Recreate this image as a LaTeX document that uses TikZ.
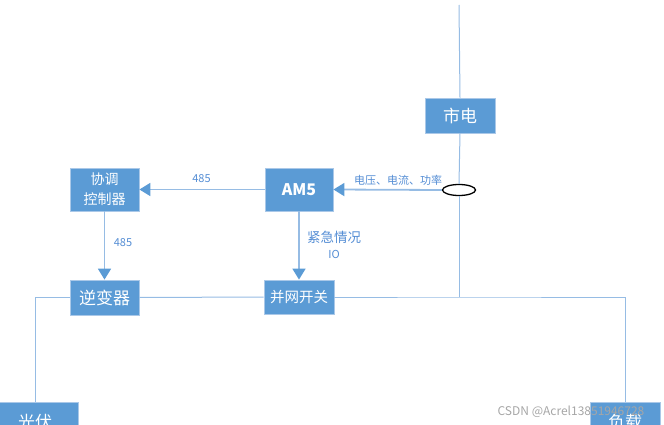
\documentclass[tikz,border=0pt]{standalone}
\usepackage{fontspec}
\setmainfont{Noto Sans CJK SC}
\usetikzlibrary{arrows.meta,shapes.geometric}
\definecolor{boxblue}{RGB}{91,155,213}
\definecolor{boxedge}{RGB}{170,200,232}
\definecolor{lineblue}{RGB}{150,188,228}
\definecolor{txtblue}{RGB}{84,141,212}
\tikzset{
  box/.style={draw=boxedge, line width=0.8pt, fill=boxblue, text=white, inner sep=0pt, align=center},
  wire/.style={draw=lineblue, line width=1pt},
  arr/.style={draw=lineblue, line width=1.8pt, -{Triangle[length=11pt,width=13pt,fill=boxblue,color=boxblue]}},
  lbl/.style={text=txtblue, inner sep=0pt, font=\fontsize{11}{13}\selectfont}
}
\begin{document}
\begin{tikzpicture}[x=1pt,y=-1pt]
\useasboundingbox (0,0) rectangle (664,425);
% boxes
\node[box, minimum width=70pt, minimum height=35pt, font=\fontsize{17}{20}\selectfont] (sd) at (460,115.5) {市电};
\node[box, minimum width=68pt, minimum height=43pt, font=\fontsize{16}{19}\selectfont\bfseries] (am) at (299,189.5) {AM5};
\node[box, minimum width=69pt, minimum height=43pt, font=\fontsize{14}{20}\selectfont] (xt) at (104.5,189.5) {协调\\控制器};
\node[box, minimum width=69pt, minimum height=35pt, font=\fontsize{17}{20}\selectfont] (inv) at (104.5,297.5) {逆变器};
\node[box, minimum width=70pt, minimum height=34pt, font=\fontsize{14.5}{18}\selectfont] (sw) at (299,297) {并网开关};
\node[box, minimum width=86pt, minimum height=40pt, font=\fontsize{17}{20}\selectfont] (pv) at (35,422) {光伏};
\node[box, minimum width=70pt, minimum height=40pt, font=\fontsize{17}{20}\selectfont] (load) at (625,422) {负载};
\node[draw=black, line width=1.3pt, ellipse, minimum width=33pt, minimum height=11pt, inner sep=0pt] (ell) at (459,190) {};
% coordinates
\coordinate (top) at (459,5);
\coordinate (j) at (459,297);
% wires
\draw[wire] (top) -- (sd.north);
\draw[wire] (sd.south) -- (ell.north);
\draw[wire] (ell.south) -- (j);
\draw[wire] (pv.north) |- (inv.west);
\draw[wire] (inv.east) -- (sw.west);
\draw[wire] (sw.east) -- (j) -| (load.north);
% arrows
\draw[arr] (ell.west) -- (am.east);
\draw[arr] (am.west) -- (xt.east);
\draw[arr] (xt.south) -- (inv.north);
\draw[arr] (am.south) -- (sw.north);
% labels
\node[lbl] (l1) at (398,180) {电压、电流、功率};
\node[lbl] (l2) at (201.5,179) {485};
\node[lbl] (l3) at (123,243) {485};
\node[lbl, font=\fontsize{13.5}{16}\selectfont] (l4) at (334,237) {紧急情况};
\node[lbl] (l5) at (334,254) {IO};
% watermark
\node[text=black!35, inner sep=0pt, font=\fontsize{12}{14}\selectfont] (wm) at (571,412) {CSDN @Acrel13851946728};
\end{tikzpicture}
\end{document}
